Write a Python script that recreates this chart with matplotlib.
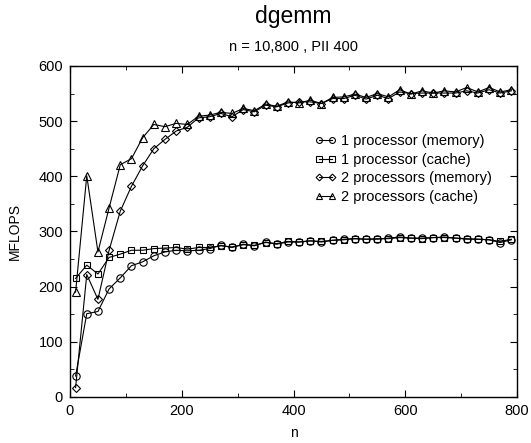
import matplotlib
matplotlib.use("Agg")
import matplotlib.pyplot as plt
from matplotlib.ticker import MultipleLocator

plt.rcParams['font.family'] = ['Liberation Sans', 'DejaVu Sans']

n = list(range(10, 800, 20))

one_mem = [38, 151, 155, 196, 216, 238, 245, 256, 263, 266, 265, 266, 269,
           275, 271, 277, 274, 281, 277, 281, 281, 283, 281, 284, 286, 287,
           286, 286, 288, 290, 288, 288, 289, 290, 288, 286, 286, 285, 280, 285]
one_cache = [215, 239, 223, 253, 259, 266, 266, 269, 270, 271, 268, 271, 271,
             274, 272, 276, 275, 280, 278, 282, 281, 283, 282, 284, 285, 287,
             286, 287, 287, 289, 288, 287, 289, 289, 288, 287, 286, 285, 282, 286]
two_mem = [17, 222, 177, 266, 337, 382, 419, 450, 467, 482, 489, 506, 508,
           514, 508, 521, 517, 529, 526, 533, 535, 535, 532, 541, 541, 547,
           540, 547, 541, 553, 550, 551, 551, 551, 551, 555, 551, 557, 551, 555]
two_cache = [190, 401, 263, 343, 421, 432, 470, 494, 490, 496, 494, 509, 511,
             516, 514, 523, 519, 531, 527, 535, 533, 538, 532, 543, 544, 549,
             543, 550, 544, 557, 549, 555, 551, 555, 553, 561, 553, 561, 553, 557]

labels = ['1 processor (memory)', '1 processor (cache)',
          '2 processors (memory)', '2 processors (cache)']
markers = ['o', 's', 'D', '^']
sizes = [5.3, 4.8, 4.3, 5.2]

fig = plt.figure(figsize=(5.31, 4.43), dpi=100)
ax = fig.add_axes([70/531, 1-397/443, (517-70)/531, (397-66)/443])

for ys, lab, m, s in zip([one_mem, one_cache, two_mem, two_cache], labels, markers, sizes):
    ax.plot(n, ys, color='black', lw=0.8, marker=m, markersize=s,
            markerfacecolor='none', markeredgecolor='black', markeredgewidth=0.8,
            label=lab)

ax.set_xlim(0, 800)
ax.set_ylim(0, 600)
ax.xaxis.set_major_locator(MultipleLocator(200))
ax.xaxis.set_minor_locator(MultipleLocator(100))
ax.yaxis.set_major_locator(MultipleLocator(100))
ax.yaxis.set_minor_locator(MultipleLocator(50))
ax.tick_params(which='both', direction='in', top=True, right=True, labelsize=10.5)
ax.tick_params(which='major', length=5, pad=5)
ax.tick_params(which='minor', length=3)
for sp in ax.spines.values():
    sp.set_linewidth(1.0)

ax.set_xlabel('n', fontsize=10, labelpad=6)
ax.set_ylabel('MFLOPS', fontsize=10, labelpad=12)
cx = (70 + 517) / 2 / 531
fig.text(cx, 1-16/443, 'dgemm', ha='center', va='center', fontsize=16.5)
fig.text(cx, 1-47/443, 'n = 10,800 , PII 400', ha='center', va='center', fontsize=10.5)

ax.legend(loc='upper left', bbox_to_anchor=((315-70)/447, 1-(134-66)/331),
          frameon=False, numpoints=2, fontsize=10.5, handlelength=1.45,
          handletextpad=0.3, labelspacing=0.32, borderaxespad=0, borderpad=0,
          markerscale=0.8)

fig.savefig('out.png', dpi=100)
